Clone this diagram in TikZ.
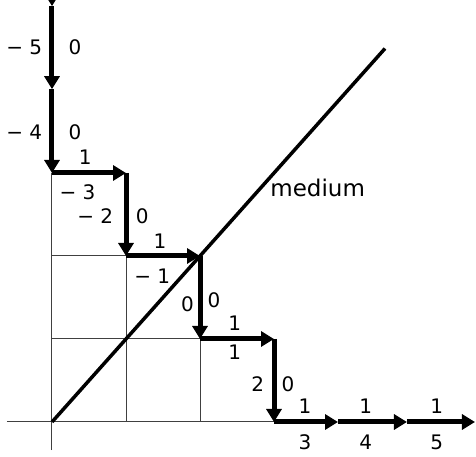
\documentclass[tikz,border=0pt]{standalone}
\usepackage{fontspec}
\setmainfont{DejaVu Sans}
\usetikzlibrary{arrows.meta}

\tikzset{
  walk/.style={line width=5pt, -{Triangle[length=13pt,width=15pt]}},
  gridline/.style={line width=1pt, black!75},
  lbl/.style={inner sep=0pt, font=\fontsize{20}{24}\selectfont},
  neg/.style={lbl, anchor=east}
}

\begin{document}
\begin{tikzpicture}[x=74pt,y=83pt]
    \clip (-0.7027,-0.4217) rectangle (5.7297,5.0843);

    % lattice points along the walk
    \coordinate (o) at (0,0);
    \coordinate (top) at (0,5.9);
    \coordinate (a5) at (0,5.01);
    \coordinate (a4) at (0,4.01);
    \coordinate (a3) at (0,3);
    \coordinate (b3) at (1,3);
    \coordinate (b2) at (1,2);
    \coordinate (c2) at (2,2);
    \coordinate (c1) at (2,1);
    \coordinate (d1) at (3,1);
    \coordinate (d0) at (3,0);
    \coordinate (e0) at (3.865,0);
    \coordinate (f0) at (4.797,0);
    \coordinate (g0) at (5.716,0);
    \coordinate (x1) at (1,0);
    \coordinate (x2) at (2,0);
    \coordinate (y1) at (0,1);
    \coordinate (y2) at (0,2);
    \coordinate (xl) at (-0.61,0);
    \coordinate (yl) at (0,-0.34);
    \coordinate (diag) at (4.5,4.5);

    % axes and grid
    \draw[gridline] (xl) -- (d0);
    \draw[gridline] (yl) -- (a3);
    \draw[gridline] (x1) -- (b2);
    \draw[gridline] (x2) -- (c1);
    \draw[gridline] (y1) -- (c1);
    \draw[gridline] (y2) -- (b2);

    \draw[line width=3.5pt] (o) -- (diag);

    % the walk
    \draw[walk] (top) -- (a5);
    \draw[walk] (a5) -- (a4);
    \draw[walk] (a4) -- (a3);
    \draw[walk] (a3) -- (b3);
    \draw[walk] (b3) -- (b2);
    \draw[walk] (b2) -- (c2);
    \draw[walk] (c2) -- (c1);
    \draw[walk] (c1) -- (d1);
    \draw[walk] (d1) -- (d0);
    \draw[walk] (d0) -- (e0);
    \draw[walk] (e0) -- (f0);
    \draw[walk] (f0) -- (g0);

    % labels
    \node[neg] (l5) at (-0.13,4.51) {− 5};
    \node[lbl] (r5) at (0.31,4.51) {0};
    \node[neg] (l4) at (-0.13,3.49) {− 4};
    \node[lbl] (r4) at (0.31,3.49) {0};
    \node[lbl] (u3) at (0.45,3.19) {1};
    \node[neg] (d3) at (0.59,2.77) {− 3};
    \node[neg] (l2) at (0.83,2.48) {− 2};
    \node[lbl] (r2) at (1.22,2.48) {0};
    \node[lbl] (u1) at (1.46,2.18) {1};
    \node[neg] (d1l) at (1.60,1.76) {− 1};
    \node[lbl] (l0) at (1.83,1.42) {0};
    \node[lbl] (r0) at (2.19,1.47) {0};
    \node[lbl] (up1) at (2.47,1.19) {1};
    \node[lbl] (dn1) at (2.47,0.84) {1};
    \node[lbl] (l2b) at (2.78,0.46) {2};
    \node[lbl] (r2b) at (3.19,0.46) {0};
    \foreach \x/\n in {3.42/3,4.24/4,5.20/5}{
        \node[lbl] (u\n) at (\x,0.19) {1};
        \node[lbl] (b\n) at (\x,-0.24) {\n};
    }
    \node[lbl, font=\fontsize{23}{27}\selectfont] (med) at (3.59,2.82) {medium};
\end{tikzpicture}
\end{document}
